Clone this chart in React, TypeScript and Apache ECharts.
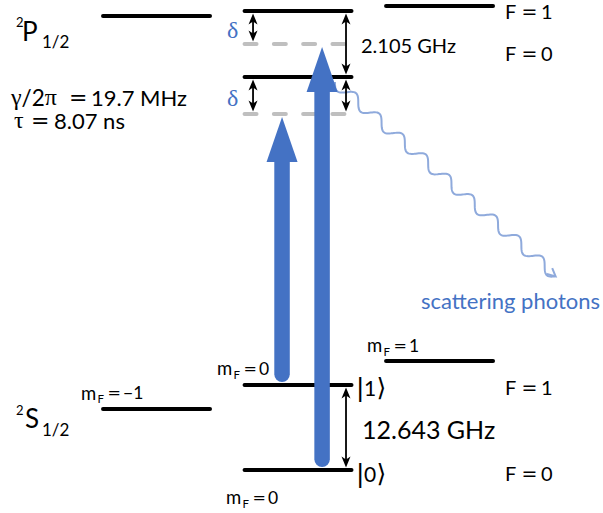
import { useEffect, useRef } from 'react';
import * as echarts from 'echarts';

// Schematic energy of each hyperfine / Zeeman sub-level (arbitrary units, up = higher energy)
const LEVEL_NAMES = ['P F=1 mF=-1', 'P F=1 mF=0', 'P F=1 mF=+1', 'P F=0 mF=0', 'S F=1 mF=-1', 'S F=1 mF=0 |1>', 'S F=1 mF=+1', 'S F=0 mF=0 |0>'];
const LEVEL_MF = [-1, 0, 1, 0, -1, 0, 1, 0];
const LEVEL_ENERGY = [497, 502, 507, 436, 104, 128, 152, 43];

// Virtual levels detuned by δ below P F=1 and P F=0
const VIRTUAL_MF = [0, 0];
const VIRTUAL_ENERGY = [469, 399];

// Laser transitions (from ground level to detuned virtual level)
const PUMP_FROM = [128, 43];
const PUMP_TO = [399, 469];

// Double-headed spacing markers: δ, δ, 2.105 GHz, δ, 12.643 GHz
const SPAN_FROM = [502, 436, 502, 436, 128];
const SPAN_TO = [469, 399, 436, 399, 43];

// Scattered photon: start and end (mF axis, energy axis)
const PHOTON_FROM = [0.261, 431];
const PHOTON_TO = [1.823, 237];

// ---- drawing constants ----
const HALF = 0.378; // half-width of a level line, in mF units
const PUMP_LANES = [-0.113, 0.17];
const SPAN_LANES = [-0.318, -0.318, 0.339, 0.339, 0.339];

const BLUE = '#4472C4';
const WAVE = '#8FAADC';
const GREY = '#BFBFBF';
const SANS = 'Lato, "Open Sans", sans-serif';
const SERIF = '"Liberation Serif", "DejaVu Serif", serif';
const SYM = '"DejaVu Sans", sans-serif';

type TxtOpts = { family?: string; color?: string; rich?: Record<string, unknown>; lineHeight?: number };
function txt(text: string, x: number, y: number, size: number, opts: TxtOpts = {}) {
  return {
    type: 'text',
    x,
    y,
    silent: true,
    style: {
      text,
      fontSize: size,
      fontFamily: opts.family || SANS,
      fill: opts.color || '#000',
      align: 'left',
      textAlign: 'left',
      verticalAlign: 'middle',
      textVerticalAlign: 'middle',
      lineHeight: opts.lineHeight,
      rich: opts.rich,
    },
  };
}

// "m_F = value" label
function mF(x: number, y: number, value: string) {
  return [
    txt('m', x, y, 18.5),
    txt('F', x + 16.5, y + 6, 11.5),
    txt('=', x + 26.5, y, 16, { family: SYM }),
    txt(value, x + 42, y, 17.5),
  ];
}

// "F = n" label
function fLabel(y: number, value: string) {
  return [txt('F', 505, y, 20), txt('=', 521.5, y, 19, { family: SYM }), txt(value, 541, y, 20)];
}

// ket |n⟩
function ket(y: number, value: string) {
  return [txt('|', 356, y, 25, { family: SYM }), txt(value, 364, y, 21), txt('⟩', 376.5, y, 25, { family: SYM })];
}

function stealthHead(x: number, y: number, dir: number) {
  // dir = 1 -> pointing up (tip at y), -1 -> pointing down
  return {
    type: 'polygon',
    shape: {
      points: [
        [x, y],
        [x - 4.5, y + dir * 11],
        [x, y + dir * 8],
        [x + 4.5, y + dir * 11],
      ],
    },
    style: { fill: '#000' },
  };
}

export default function App() {
  const ref = useRef<HTMLDivElement>(null);

  useEffect(() => {
    if (!ref.current) return;
    const chart = echarts.init(ref.current, null, { renderer: 'svg' });

    const levelData = LEVEL_MF.map((m, i) => [m, LEVEL_ENERGY[i], 0, LEVEL_NAMES[i]]).concat(
      VIRTUAL_MF.map((m, i) => [m, VIRTUAL_ENERGY[i], 1, 'virtual']),
    );
    const pumpData = PUMP_FROM.map((e, i) => [PUMP_LANES[i], e, PUMP_TO[i]]);
    const spanData = SPAN_FROM.map((e, i) => [SPAN_LANES[i], e, SPAN_TO[i]]);
    const photonData = [[PHOTON_FROM[0], PHOTON_FROM[1], PHOTON_TO[0], PHOTON_TO[1]]];

    const greek = { g: { fontFamily: SERIF, fontSize: 24, lineHeight: 19 } };

    const option = {
      animation: false,
      backgroundColor: '#fff',
      grid: { left: 0, right: 0, top: 0, bottom: 0 },
      xAxis: { type: 'value', min: -2.106, max: 2.155, show: false },
      yAxis: { type: 'value', min: 0, max: 513, show: false },
      series: [
        {
          type: 'custom',
          name: 'levels',
          silent: true,
          clip: false,
          z: 1,
          data: levelData,
          renderItem: (_p: unknown, api: any) => {
            const m = api.value(0) as number;
            const e = api.value(1) as number;
            const dashed = api.value(2) === 1;
            const a = api.coord([m - HALF, e]);
            const b = api.coord([m + HALF, e]);
            return {
              type: 'line',
              shape: { x1: a[0], y1: a[1], x2: b[0], y2: b[1] },
              style: {
                stroke: dashed ? GREY : '#000',
                lineWidth: 4,
                lineCap: 'round',
                lineDash: dashed ? [12, 17.3] : null,
              },
            };
          },
        },
        {
          type: 'custom',
          name: 'scattered photon',
          silent: true,
          clip: false,
          z: 2,
          data: photonData,
          renderItem: (_p: unknown, api: any) => {
            const s = api.coord([api.value(0), api.value(1)]);
            const e = api.coord([api.value(2), api.value(3)]);
            const dx = e[0] - s[0];
            const dy = e[1] - s[1];
            const L = Math.hypot(dx, dy);
            const ux = dx / L;
            const uy = dy / L;
            const nx = -uy;
            const ny = ux;
            const amp = 5.5;
            const lambda = 31;
            const pts: number[][] = [];
            for (let t = 0; t <= L; t += 1) {
              const o = amp * Math.sin((2 * Math.PI * t) / lambda);
              pts.push([s[0] + ux * t + nx * o, s[1] + uy * t + ny * o]);
            }
            const last = pts[pts.length - 1];
            return {
              type: 'group',
              children: [
                {
                  type: 'polyline',
                  shape: { points: pts },
                  style: { stroke: WAVE, lineWidth: 2, fill: 'none' },
                },
                {
                  type: 'polyline',
                  shape: {
                    points: [
                      [last[0] - ux * 8 + nx * 4, last[1] - uy * 8 + ny * 4],
                      last,
                      [last[0] - ux * 8 - nx * 4, last[1] - uy * 8 - ny * 4],
                    ],
                  },
                  style: { stroke: WAVE, lineWidth: 2, fill: 'none' },
                },
              ],
            };
          },
        },
        {
          type: 'custom',
          name: 'spacings',
          silent: true,
          clip: false,
          z: 3,
          data: spanData,
          renderItem: (_p: unknown, api: any) => {
            const x = api.value(0);
            const a = api.coord([x, api.value(1)]);
            const b = api.coord([x, api.value(2)]);
            const top = Math.min(a[1], b[1]) + 2.5;
            const bot = Math.max(a[1], b[1]) - 2.5;
            return {
              type: 'group',
              children: [
                {
                  type: 'line',
                  shape: { x1: a[0], y1: top + 6, x2: a[0], y2: bot - 6 },
                  style: { stroke: '#000', lineWidth: 1.8 },
                },
                stealthHead(a[0], top, 1),
                stealthHead(a[0], bot, -1),
              ],
            };
          },
        },
        {
          type: 'custom',
          name: 'pump',
          silent: true,
          clip: false,
          z: 4,
          data: pumpData,
          renderItem: (_p: unknown, api: any) => {
            const x = api.value(0);
            const from = api.coord([x, api.value(1)]);
            const to = api.coord([x, api.value(2)]);
            const shaft = 15.5;
            const headLen = 45;
            const headHalf = 15.5;
            const bottom = from[1] - 3;
            const tip = to[1] + 3;
            return {
              type: 'group',
              children: [
                {
                  type: 'line',
                  shape: { x1: from[0], y1: bottom - shaft / 2, x2: from[0], y2: tip + headLen },
                  style: { stroke: BLUE, lineWidth: shaft, lineCap: 'round' },
                },
                {
                  type: 'polygon',
                  shape: {
                    points: [
                      [from[0], tip],
                      [from[0] - headHalf, tip + headLen],
                      [from[0] + headHalf, tip + headLen],
                    ],
                  },
                  style: { fill: BLUE },
                },
              ],
            };
          },
        },
      ],
      graphic: [
        // 2P1/2 term
        txt('2', 16, 22, 13),
        txt('P', 22, 31, 26),
        txt('1/2', 42, 41, 17),
        txt('{g|γ}/2{g|π}', 11, 97, 22.5, { rich: greek, lineHeight: 19 }),
        txt('=', 69, 97, 22, { family: SYM, lineHeight: 19 }),
        txt('19.7 MHz', 91, 97, 22, { lineHeight: 19 }),
        txt('{g|τ}', 14, 120, 22.5, { rich: greek, lineHeight: 19 }),
        txt('=', 31, 120, 22, { family: SYM, lineHeight: 19 }),
        txt('8.07 ns', 54, 120, 22, { lineHeight: 19 }),
        txt('δ', 227, 30, 24, { family: SERIF, color: BLUE }),
        txt('δ', 227, 98, 24, { family: SERIF, color: BLUE }),
        txt('2.105 GHz', 361, 45, 20),
        ...fLabel(10.5, '1'),
        ...fLabel(53, '0'),
        txt('scattering photons', 421, 300, 22, { color: BLUE }),
        // 2S1/2 term
        ...mF(367, 345, '1'),
        ...mF(81, 392.5, '−1'),
        ...mF(217, 368, '0'),
        ...mF(226, 497, '0'),
        txt('2', 16, 410, 13),
        txt('S', 25, 418, 26),
        txt('1/2', 42, 429, 17),
        ...ket(387, '1'),
        ...ket(473, '0'),
        txt('12.643 GHz', 362, 429, 25),
        ...fLabel(387, '1'),
        ...fLabel(473, '0'),
      ],
    };

    chart.setOption(option as any);
    return () => chart.dispose();
  }, []);

  return (
    <div
      ref={ref}
      style={{ position: 'absolute', left: 0, top: 0, width: 603, height: 513 }}
    />
  );
}
